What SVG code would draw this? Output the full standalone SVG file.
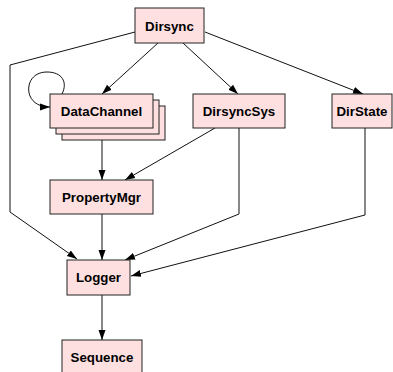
<svg xmlns="http://www.w3.org/2000/svg" width="393" height="372" viewBox="0 0 393 372">
<style>
.n rect{fill:#ffe0e0;stroke:#222;stroke-width:1}
.n text{font-family:"Liberation Sans",Arial,sans-serif;font-weight:bold;font-size:13.3px;text-anchor:middle;fill:#000}
.e path{fill:none;stroke:#111;stroke-width:1}
</style>
<defs>
<marker id="a" viewBox="0 0 10 10" refX="10" refY="5" markerWidth="10" markerHeight="10" markerUnits="userSpaceOnUse" orient="auto">
<path d="M0,1.5L10,5L0,8.5z" fill="#000"/>
</marker>
</defs>
<rect width="393" height="372" fill="#fff"/>
<g class="e" marker-end="url(#a)">
<path d="M158,43L102,94" marker-end="url(#a)"/>
<path d="M62,94C68,82 62,72 47,72C31,72 26,86 30,96C33,103 40,107 50,107" marker-end="url(#a)"/>
<path d="M135,32L10,65L10,212L77,259" marker-end="url(#a)"/>
<path d="M183,43L238,94" marker-end="url(#a)"/>
<path d="M205,32L363,94" marker-end="url(#a)"/>
<path d="M102,128L102,180" marker-end="url(#a)"/>
<path d="M215,128L125,180" marker-end="url(#a)"/>
<path d="M239,128L239,214L125,260" marker-end="url(#a)"/>
<path d="M365,128L365,215L131,276" marker-end="url(#a)"/>
<path d="M102,214L102,260" marker-end="url(#a)"/>
<path d="M102,295L102,340" marker-end="url(#a)"/>
</g>
<g id="Dirsync" class="n"><rect x="135" y="8" width="69" height="35"/><text x="169.5" y="30.5">Dirsync</text></g>
<g id="DataChannel" class="n">
<rect x="62" y="106" width="103" height="34"/>
<rect x="56" y="100" width="103" height="34"/>
<rect x="50" y="94" width="103" height="34"/>
<text x="101.5" y="116">DataChannel</text></g>
<g id="DirsyncSys" class="n"><rect x="193" y="94" width="92" height="34"/><text x="239" y="116">DirsyncSys</text></g>
<g id="DirState" class="n"><rect x="332" y="94" width="60" height="34"/><text x="362" y="116">DirState</text></g>
<g id="PropertyMgr" class="n"><rect x="50" y="180" width="103" height="34"/><text x="101.5" y="202">PropertyMgr</text></g>
<g id="Logger" class="n"><rect x="67" y="260" width="63" height="35"/><text x="98.5" y="282">Logger</text></g>
<g id="Sequence" class="n"><rect x="62" y="340" width="80" height="34"/><text x="102" y="362">Sequence</text></g>
</svg>
